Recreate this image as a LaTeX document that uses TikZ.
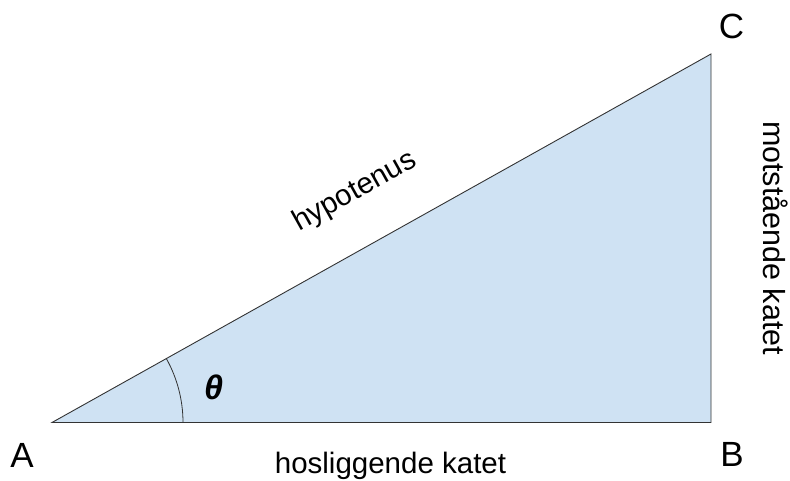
\documentclass[tikz,border=0pt]{standalone}
\usepackage{fontspec}
\setmainfont{Liberation Sans}
\usetikzlibrary{calc}
\definecolor{fillblue}{HTML}{CFE2F3}
\definecolor{edge}{HTML}{333333}
\begin{document}
\begin{tikzpicture}[x=1pt,y=-1pt,
  vertexlabel/.style={inner sep=0pt,font=\fontsize{35}{40}\selectfont},
  sidelabel/.style={inner sep=0pt,font=\fontsize{29.5}{34}\selectfont},
  side/.style={draw=edge,line width=0.9pt}]
\useasboundingbox (0,0) rectangle (790,481);
\coordinate (A) at (52,422.5);
\coordinate (B) at (711,422.5);
\coordinate (C) at (711,54);
\fill[fillblue] (A) -- (B) -- (C) -- cycle;
\draw[side] (A) -- (B) -- (C) -- cycle;
\draw[edge,line width=0.8pt] ($(A)+(131,0)$) arc[start angle=0,end angle=-29.2,radius=131];
\node[vertexlabel] (la) at (22,455) {A};
\node[vertexlabel] (lb) at (732,454) {B};
\node[vertexlabel] (lc) at (731.5,26) {C};
\node[inner sep=0pt,font=\fontsize{34}{40}\selectfont\bfseries\itshape] (th) at (213.5,387.5) {θ};
\node[sidelabel,rotate=29.2] (hyp) at (355,192) {hypotenus};
\node[sidelabel,font=\fontsize{30.5}{34}\selectfont,rotate=-90,anchor=base] (opp) at (763,238) {motstående katet};
\node[sidelabel,anchor=base] (adj) at (390.5,473) {hosliggende katet};
\end{tikzpicture}
\end{document}
